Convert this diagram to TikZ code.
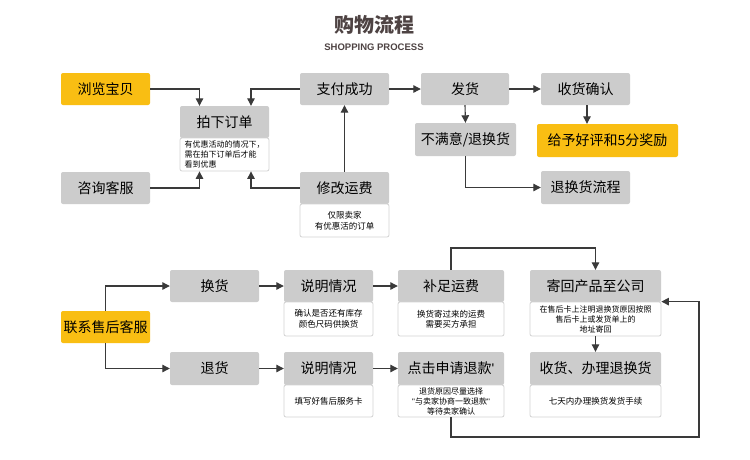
\documentclass[tikz,border=0pt]{standalone}
\usepackage{fontspec}
\setmainfont{Noto Sans CJK SC}
\newfontfamily\latinfont{Liberation Sans}
\usetikzlibrary{arrows.meta}
\definecolor{boxgray}{HTML}{CCCCCC}
\definecolor{boxyellow}{HTML}{F9BE13}
\definecolor{notegray}{HTML}{D2D2D2}
\definecolor{linegray}{HTML}{3A3A3A}
\definecolor{titlebrown}{HTML}{4E4343}

\begin{document}
\begin{tikzpicture}[x=1pt, y=-1pt,
    gbox/.style={fill=boxgray, rounded corners=2pt, minimum width=89pt, minimum height=32pt, inner sep=0pt, font=\fontsize{14}{16}\selectfont},
    ybox/.style={gbox, fill=boxyellow},
    note/.style={draw=notegray, line width=0.8pt, fill=white, rounded corners=2pt, minimum width=89pt, minimum height=33pt, inner sep=0pt, align=center, font=\fontsize{8.5}{10.5}\selectfont},
    >={Triangle[length=7.5pt, width=7.5pt]},
    flow/.style={->, draw=linegray, line width=1.1pt}]
        \fill[white] (0, 0) rectangle (750, 459);
        \useasboundingbox (0, 0) rectangle (750, 459);
        % title
        \node[text=titlebrown, font=\fontsize{20}{24}\selectfont\bfseries] (title) at (374, 25) {购物流程};
        \node[text=titlebrown, font=\latinfont\fontsize{9.5}{11}\selectfont\bfseries] (subtitle) at (374, 47) {SHOPPING PROCESS};
        % buying steps
        \node[ybox] (browse) at (105.5, 89) {浏览宝贝};
        \node[gbox] (order) at (224.5, 122) {拍下订单};
        \node[note, align=left, font=\fontsize{8}{10}\selectfont] (ordernote) at (224.5, 154.5) {有优惠活动的情况下，\\需在拍下订单后才能\\看到优惠};
        \node[gbox] (pay) at (344.5, 89) {支付成功};
        \node[gbox] (consult) at (105.5, 188) {咨询客服};
        \node[gbox] (fee) at (344.5, 188) {修改运费};
        \node[note] (feenote) at (344.5, 220.5) {仅限卖家\\有优惠活的订单};
        \node[gbox, minimum width=88pt] (ship) at (465, 89) {发货};
        \node[gbox] (confirm) at (585.5, 89) {收货确认};
        \node[gbox, minimum width=101pt, minimum height=33pt] (unhappy) at (465.5, 139.5) {不满意/退换货};
        \node[ybox, minimum width=141pt, minimum height=33pt] (praise) at (607.5, 140.5) {给予好评和5分奖励};
        \node[gbox, minimum height=33pt] (returnflow) at (585.5, 187.5) {退换货流程};
        % into the order
        \draw[flow] (browse.east) -| ([xshift=-25pt]order.north);
        \draw[flow] (pay.west) -| ([xshift=26.5pt]order.north);
        \draw[flow] (consult.east) -| ([xshift=-25pt]ordernote.south);
        \draw[flow] (fee.west) -| ([xshift=26.5pt]ordernote.south);
        % fee changed, then pay
        \draw[flow] (fee.north) -- (pay.south);
        % shipping and after
        \draw[flow] (pay.east) -- (ship.west);
        \draw[flow] (ship.east) -- (confirm.west);
        \draw[flow] (ship.south) -- (unhappy.north);
        \draw[flow] ([xshift=1.5pt]confirm.south) -- ([xshift=1.5pt]confirm.south |- praise.north);
        \draw[flow] (unhappy.south) |- (returnflow.west);
        % after-sales steps
        \node[ybox] (service) at (105.5, 327) {联系售后客服};
        \node[gbox] (exchange) at (214.5, 286) {换货};
        \node[gbox, minimum height=33pt] (refund) at (214.5, 368.5) {退货};
        \node[gbox] (explaina) at (328.5, 286) {说明情况};
        \node[note, minimum height=34pt] (notea) at (328.5, 319) {确认是否还有库存\\颜色尺码供换货};
        \node[gbox, minimum height=33pt] (explainb) at (328.5, 368.5) {说明情况};
        \node[note, minimum height=32pt] (noteb) at (328.5, 401) {填写好售后服务卡};
        \node[gbox, minimum width=106pt] (topup) at (451, 286) {补足运费};
        \node[note, minimum width=106pt, minimum height=34pt] (notec) at (451, 319) {换货寄过来的运费\\需要买方承担};
        \node[gbox, minimum width=106pt, minimum height=33pt] (apply) at (451, 368.5) {点击申请退款{\latinfont'}};
        \node[note, minimum width=106pt, minimum height=32pt, font=\fontsize{8}{10}\selectfont] (noted) at (451, 401) {退货原因尽量选择\\{\latinfont"}与卖家协商一致退款{\latinfont"}\\等待卖家确认};
        \node[gbox, minimum width=131pt] (sendback) at (595.5, 286) {寄回产品至公司};
        \node[note, minimum width=131pt, minimum height=34pt, font=\fontsize{8}{10}\selectfont] (notee) at (595.5, 319) {在售后卡上注明退换货原因按照\\售后卡上或发货单上的\\地址寄回};
        \node[gbox, minimum width=131pt, minimum height=33pt] (handle) at (595.5, 368.5) {收货、办理退换货};
        \node[note, minimum width=131pt, minimum height=32pt] (notef) at (595.5, 401) {七天内办理换货发货手续};
        \coordinate (topbend) at (451, 248);
        \coordinate (loopcorner) at (699, 437);
        % split into exchange and refund
        \draw[flow] (service.north) |- (exchange.west);
        \draw[flow] (service.south) |- (refund.west);
        % exchange row
        \draw[flow] (exchange.east) -- (explaina.west);
        \draw[flow] (explaina.east) -- (topup.west);
        \draw[flow] (topup.north) -- (topbend) -| (sendback.north);
        % refund row
        \draw[flow] (refund.east) -- (explainb.west);
        \draw[flow] (explainb.east) -- (apply.west);
        \draw[flow] (noted.south) |- (loopcorner) |- (notee.north east);
        % goods sent back, then handled
        \draw[flow] (notee.south) -- (handle.north);
    \end{tikzpicture}
\end{document}
